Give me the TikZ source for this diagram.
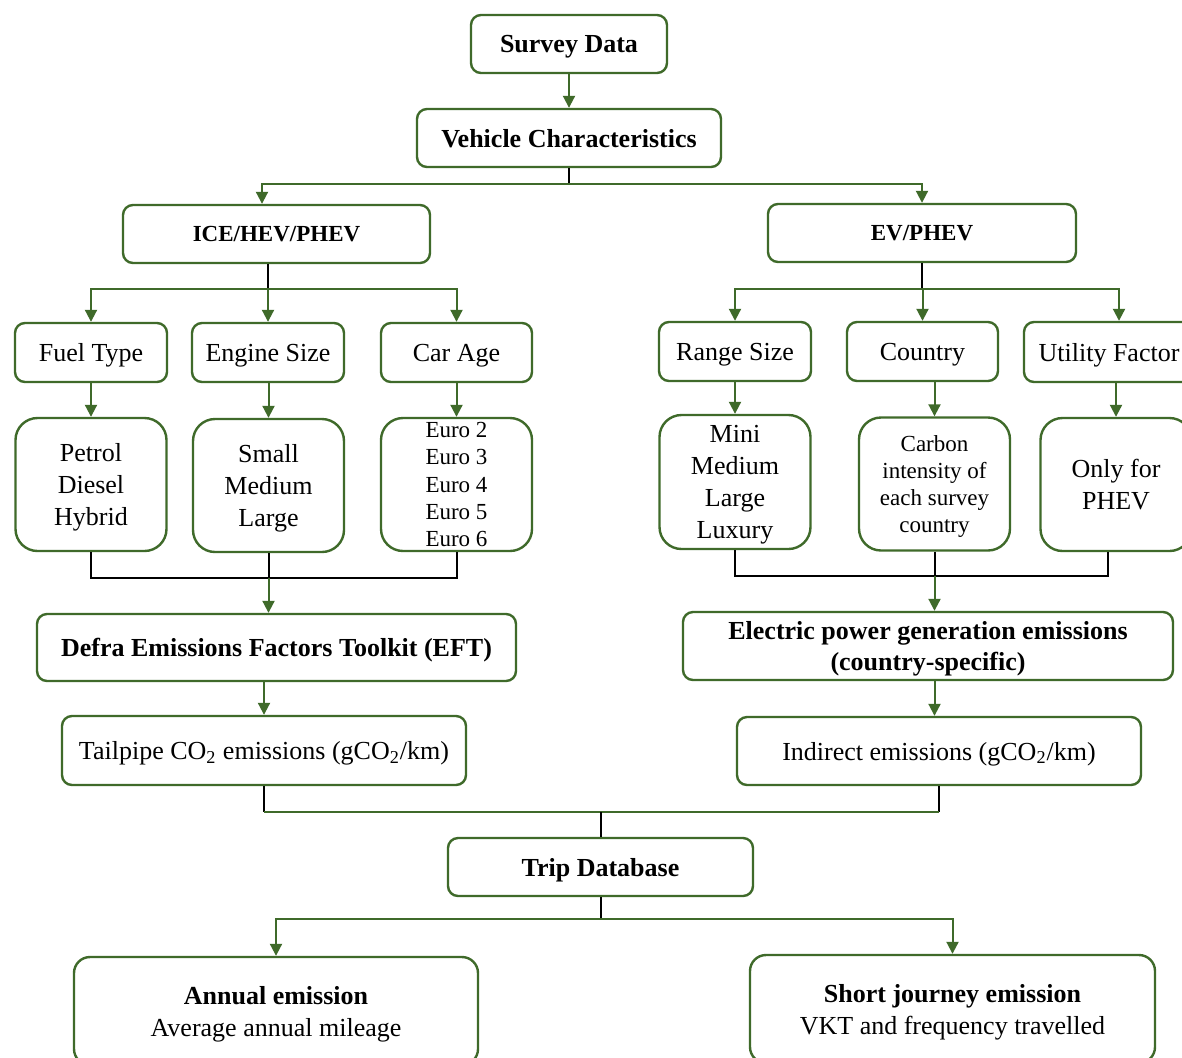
\documentclass[tikz,border=0pt]{standalone}
\usepackage{fontspec}
\setmainfont{Liberation Serif}
\definecolor{leaf}{HTML}{3F6A2A}
\usetikzlibrary{arrows.meta}

\begin{document}
\begin{tikzpicture}[
 x=0.5pt,y=-0.5pt,
 box/.style={draw=leaf,line width=1.2pt,rounded corners=5pt,align=center,inner sep=0pt,text depth=0pt,font={\fontsize{13}{16}\selectfont}},
 head/.style={box,font={\fontsize{13}{15.5}\selectfont\bfseries}},
 tall/.style={box,rounded corners=11pt,minimum width=75.5pt,minimum height=66.5pt},
 smalltext/.style={font={\fontsize{11.5}{13.6}\selectfont}},
 arr/.style={-{Triangle[length=6pt,width=6pt]},draw=leaf,line width=1pt},
 link/.style={draw=leaf,line width=1pt},
 stub/.style={draw=black,line width=1pt}]
\useasboundingbox[fill=white] (0,0) rectangle (1182,1057);
\node[head,minimum width=98pt,minimum height=29pt] (survey) at (569,44) {Survey Data};
\node[head,minimum width=152pt,minimum height=29pt] (vehicle) at (569,138) {Vehicle Characteristics};
\node[head,font={\fontsize{11.5}{14}\selectfont\bfseries},minimum width=153.5pt,minimum height=29pt] (ice) at (276.5,234) {ICE/HEV/PHEV};
\node[head,font={\fontsize{11.5}{14}\selectfont\bfseries},minimum width=154pt,minimum height=29pt] (ev) at (922,233) {EV/PHEV};
% second level
\node[box,minimum width=76pt,minimum height=29.5pt] (fuel) at (91,352.5) {Fuel Type};
\node[box,minimum width=76pt,minimum height=29.5pt] (engine) at (268,352.5) {Engine Size};
\node[box,minimum width=75.5pt,minimum height=29.5pt] (carage) at (456.5,352.5) {Car Age};
\node[box,minimum width=76pt,minimum height=29.5pt] (range) at (735,351.5) {Range Size};
\node[box,minimum width=75.5pt,minimum height=29.5pt] (country) at (922.5,351.5) {Country};
\node[box,minimum width=85pt,minimum height=30pt] (utility) at (1109,352) {Utility Factor};
% categories
\node[tall] (petrol) at (91,484.5) {Petrol\\Diesel\\Hybrid};
\node[tall] (small) at (268.5,485.5) {Small\\Medium\\Large};
\node[tall,smalltext] (euro) at (456.5,484.5) {Euro 2\\Euro 3\\Euro 4\\Euro 5\\Euro 6};
\node[tall,minimum height=67pt] (mini) at (735,482) {Mini\\Medium\\Large\\Luxury};
\node[tall,smalltext] (carbon) at (934.5,484) {Carbon\\intensity of\\each survey\\country};
\node[tall] (phev) at (1116,484.5) {Only for\\PHEV};
% emissions
\node[head,minimum width=239.5pt,minimum height=33.5pt] (defra) at (276.5,647.5) {Defra Emissions Factors Toolkit (EFT)};
\node[head,minimum width=245pt,minimum height=34pt] (electric) at (928,646) {Electric power generation emissions\\(country-specific)};
\node[box,minimum width=202pt,minimum height=34.5pt] (tailpipe) at (264,750.5) {Tailpipe CO\textsubscript{2} emissions (gCO\textsubscript{2}/km)};
\node[box,minimum width=202pt,minimum height=34pt] (indirect) at (939,751) {Indirect emissions (gCO\textsubscript{2}/km)};
\node[head,minimum width=152.5pt,minimum height=29pt] (trip) at (600.5,867) {Trip Database};
\node[box,rounded corners=8pt,minimum width=202pt,minimum height=54pt] (annual) at (276,1011) {\textbf{Annual emission}\\Average annual mileage};
\node[box,rounded corners=8pt,minimum width=202.5pt,minimum height=54pt] (short) at (952.5,1009) {\textbf{Short journey emission}\\VKT and frequency travelled};

\draw[arr] (survey) -- (vehicle);
\draw[stub] (vehicle.south) -- ++(0,16) coordinate (split);
\draw[arr] (split) -| ([xshift=-7.25pt]ice.north);
\draw[arr] (split) -| (ev.north);
\draw[stub] (engine.north |- ice.south) -- ++(0,25) coordinate (icebar);
\foreach \n in {fuel,engine,carage}
  \draw[arr] (icebar) -| (\n.north);
\draw[stub] (ev.south) -- ++(0,26) coordinate (evbar);
\draw[arr] (evbar) -| (range.north);
\draw[arr] (evbar) -| (country.north);
\draw[arr] (evbar) -| ([xshift=5pt]utility.north);
\foreach \a/\b in {fuel/petrol,engine/small,carage/euro,range/mini,country/carbon,utility/phev}
  \draw[arr] (\b.north |- \a.south) -- (\b.north);
% merging
\draw[stub] (petrol.south) -- ++(0,26) coordinate (leftjoin) -| (euro.south);
\draw[stub] (small.south) -- (small.south |- leftjoin) coordinate (leftmid);
\draw[arr] (leftmid) -- (defra.north -| leftmid);
\draw[stub] (mini.south) -- ++(0,26) coordinate (rightjoin) -| ([xshift=-4pt]phev.south);
\draw[stub] (carbon.south) -- (carbon.south |- rightjoin) coordinate (rightmid);
\draw[arr] (rightmid) -- (electric.north -| rightmid);
\draw[arr] (defra.south -| tailpipe.north) -- (tailpipe.north);
\draw[arr] (electric.south -| rightmid) -- (indirect.north -| rightmid);
\draw[stub] (tailpipe.south) -- ++(0,26) coordinate (lowleft);
\draw[stub] (indirect.south) -- (indirect.south |- lowleft) coordinate (lowright);
\draw[link] (lowleft) -- (lowright);
\draw[stub] (trip.north |- lowleft) -- (trip.north);
\draw[stub] (trip.south) -- ++(0,22) coordinate (tripbar);
\draw[arr] (tripbar) -| (annual.north);
\draw[arr] (tripbar) -| (short.north);
\end{tikzpicture}
\end{document}
